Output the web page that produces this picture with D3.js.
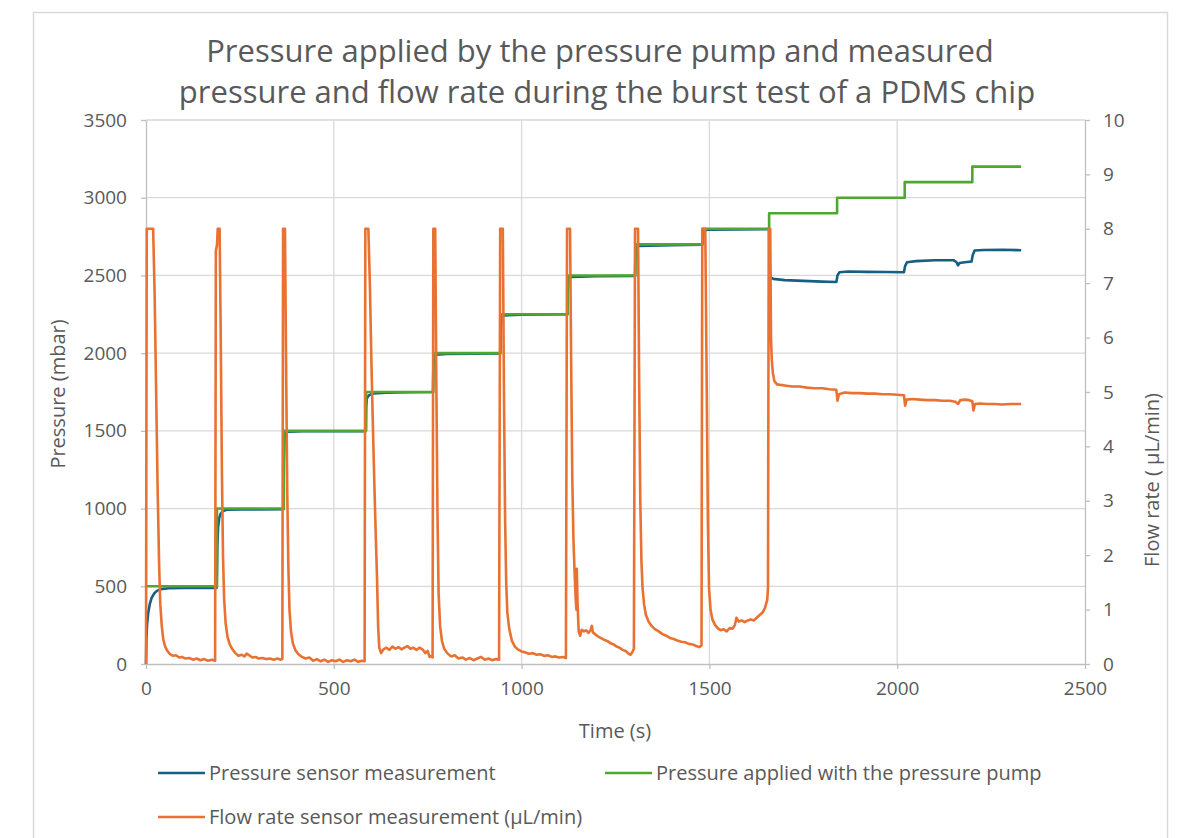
<!DOCTYPE html>
<html>
<head>
<meta charset="utf-8">
<script src="https://cdn.jsdelivr.net/npm/d3@7"></script>
<style>
  html, body { margin: 0; padding: 0; background: #ffffff; }
  svg { display: block; }
  text { font-family: "Open Sans", "Noto Sans", sans-serif; fill: #595959; }
</style>
</head>
<body>
<svg id="chart" width="1183" height="838"></svg>
<script>
// ---------------- data ----------------
const titleLines = ["Pressure applied by the pressure pump and measured",
                    "pressure and flow rate during the burst test of a PDMS chip"];
const xTicks = [0, 500, 1000, 1500, 2000, 2500];
const leftTicks = [0, 500, 1000, 1500, 2000, 2500, 3000, 3500];
const rightTicks = [0, 1, 2, 3, 4, 5, 6, 7, 8, 9, 10];
const seriesNames = ["Pressure sensor measurement",
                     "Pressure applied with the pressure pump",
                     "Flow rate sensor measurement (µL/min)"];

// Pressure applied with the pump: [time s, mbar] (step after)
const pumpPressure = [
  [0, 500], [189, 1000], [367, 1500], [586, 1750], [765, 2000], [944, 2250],
  [1123, 2500], [1303, 2700], [1482, 2800], [1659, 2900], [1840, 3000],
  [2020, 3100], [2200, 3200], [2330, 3200]
];

// Pressure sensor measurement: [time s, mbar]
const sensorPressure = [
  [0, 0], [1, 160], [3, 260], [6, 330], [10, 385], [15, 425], [22, 455], [30, 472],
  [40, 482], [60, 487], [100, 489], [150, 490], [188, 490],
  [189, 600], [190, 760], [192, 880], [195, 940], [199, 968], [205, 985], [215, 993],
  [250, 995], [300, 995], [366, 996],
  [367, 1300], [369, 1460], [372, 1485], [380, 1495], [420, 1497], [585, 1498],
  [586, 1650], [588, 1710], [593, 1728], [605, 1740], [640, 1745], [700, 1748], [764, 1750],
  [765, 1900], [767, 1975], [772, 1990], [800, 1995], [943, 1998],
  [944, 2150], [946, 2230], [952, 2243], [1000, 2248], [1122, 2250],
  [1123, 2400], [1125, 2478], [1130, 2490], [1200, 2495], [1302, 2497],
  [1303, 2620], [1306, 2680], [1312, 2690], [1400, 2695], [1481, 2697],
  [1482, 2760], [1485, 2790], [1500, 2795], [1659, 2797],
  [1660, 2600], [1662, 2490], [1670, 2478], [1700, 2470], [1750, 2465], [1800, 2460], [1838, 2458],
  [1841, 2500], [1846, 2520], [1870, 2525], [1920, 2523], [1970, 2522], [2018, 2520],
  [2021, 2560], [2026, 2585], [2050, 2592], [2100, 2598], [2150, 2598], [2158, 2585],
  [2162, 2565], [2166, 2580], [2180, 2585], [2198, 2590],
  [2201, 2630], [2206, 2660], [2230, 2664], [2280, 2665], [2330, 2662]
];

// Flow rate sensor measurement: [time s, µL/min]
const flowRate = [
  [0, 0], [2, 8], [19, 8], [23, 6.8], [27, 5.0], [31, 3.2], [35, 1.8], [38, 1.1], [42, 0.7],
  [46, 0.45], [51, 0.32], [57, 0.24], [64, 0.18], [72, 0.15], [80, 0.16], [88, 0.12], [96, 0.13],
  [105, 0.1], [115, 0.11], [125, 0.08], [135, 0.1], [145, 0.07], [155, 0.09], [165, 0.06],
  [175, 0.08], [184, 0.06],
  [186, 7.6], [189, 7.7], [191, 8], [196, 8], [199, 6.0], [202, 3.6], [205, 2.0], [208, 1.2],
  [212, 0.75], [217, 0.5], [223, 0.36], [230, 0.27], [238, 0.2], [246, 0.15], [255, 0.17],
  [262, 0.14], [268, 0.19], [275, 0.16], [283, 0.12], [292, 0.13], [300, 0.1], [310, 0.11],
  [320, 0.09], [330, 0.1], [340, 0.08], [350, 0.1], [358, 0.08], [363, 0.09],
  [365, 8], [370, 8], [373, 5.5], [376, 3.2], [379, 1.8], [382, 1.0], [386, 0.6], [391, 0.38],
  [398, 0.25], [406, 0.18], [415, 0.13], [425, 0.1], [435, 0.12], [445, 0.06], [455, 0.09],
  [465, 0.05], [475, 0.08], [485, 0.04], [495, 0.07], [505, 0.05], [515, 0.08], [525, 0.04],
  [535, 0.07], [545, 0.05], [555, 0.08], [565, 0.04], [575, 0.06], [582, 0.05],
  [584, 8], [592, 8], [596, 7.0], [600, 5.6], [604, 4.4], [608, 3.3], [612, 2.3], [615, 1.6],
  [618, 0.7], [621, 0.3], [626, 0.2], [632, 0.27], [640, 0.3], [648, 0.26], [656, 0.32],
  [664, 0.28], [672, 0.31], [680, 0.27], [688, 0.3], [696, 0.33], [704, 0.28], [712, 0.3],
  [720, 0.26], [728, 0.3], [736, 0.27], [744, 0.2], [750, 0.24], [755, 0.13], [760, 0.15],
  [763, 0.12],
  [765, 8], [770, 8], [773, 5.2], [776, 2.8], [779, 1.3], [783, 0.7], [788, 0.42], [794, 0.28],
  [802, 0.2], [812, 0.14], [822, 0.16], [832, 0.1], [842, 0.12], [852, 0.08], [862, 0.11],
  [872, 0.07], [882, 0.1], [892, 0.13], [902, 0.08], [912, 0.1], [922, 0.07], [932, 0.09],
  [940, 0.08],
  [943, 8], [950, 8], [953, 5.0], [956, 2.7], [959, 1.5], [962, 0.95], [967, 0.65], [974, 0.43],
  [982, 0.32], [990, 0.27], [1000, 0.23], [1010, 0.21], [1020, 0.19], [1030, 0.2], [1040, 0.17],
  [1050, 0.18], [1060, 0.15], [1070, 0.16], [1080, 0.13], [1090, 0.14], [1100, 0.12],
  [1110, 0.13], [1118, 0.11],
  [1121, 8], [1129, 8], [1132, 5.5], [1135, 3.4], [1138, 2.3], [1141, 1.7], [1144, 1.2],
  [1146, 1.0], [1147, 1.75], [1149, 1.1], [1152, 0.6], [1156, 0.52], [1160, 0.63], [1166, 0.6],
  [1172, 0.62], [1178, 0.57], [1184, 0.63], [1187, 0.7], [1190, 0.58], [1197, 0.54], [1205, 0.5],
  [1213, 0.47], [1221, 0.44], [1229, 0.42], [1237, 0.38], [1245, 0.36], [1253, 0.32],
  [1261, 0.3], [1269, 0.26], [1277, 0.24], [1285, 0.19], [1290, 0.17], [1295, 0.22], [1299, 0.28],
  [1302, 8], [1310, 8], [1313, 5.2], [1316, 3.0], [1319, 1.9], [1322, 1.4], [1326, 1.1],
  [1331, 0.9], [1338, 0.78], [1346, 0.7], [1355, 0.64], [1365, 0.6], [1375, 0.55], [1385, 0.52],
  [1395, 0.48], [1405, 0.46], [1415, 0.43], [1425, 0.41], [1435, 0.4], [1445, 0.37],
  [1455, 0.36], [1465, 0.33], [1473, 0.31], [1479, 0.34],
  [1481, 8], [1489, 8], [1493, 5.0], [1496, 2.6], [1499, 1.4], [1503, 1.0], [1508, 0.82],
  [1515, 0.72], [1522, 0.66], [1530, 0.62], [1538, 0.64], [1546, 0.6], [1554, 0.66],
  [1562, 0.65], [1568, 0.72], [1572, 0.85], [1578, 0.78], [1586, 0.8], [1594, 0.77],
  [1602, 0.8], [1610, 0.82], [1618, 0.8], [1626, 0.85], [1634, 0.9], [1642, 0.95],
  [1648, 1.03], [1654, 1.18], [1656, 1.4],
  [1658, 8], [1662, 8], [1664, 6.0], [1666, 5.6], [1669, 5.35], [1673, 5.2], [1680, 5.14],
  [1700, 5.12], [1720, 5.1], [1740, 5.1], [1760, 5.08], [1780, 5.07], [1800, 5.07],
  [1820, 5.05], [1838, 5.04], [1841, 4.84], [1845, 4.96], [1860, 4.99], [1880, 4.98],
  [1900, 4.98], [1920, 4.97], [1940, 4.97], [1960, 4.96], [1980, 4.96], [2000, 4.95],
  [2018, 4.94], [2021, 4.75], [2025, 4.86], [2040, 4.87], [2060, 4.86], [2080, 4.85],
  [2100, 4.85], [2120, 4.84], [2140, 4.84], [2155, 4.82], [2162, 4.78], [2168, 4.85],
  [2180, 4.86], [2192, 4.85], [2200, 4.83], [2203, 4.66], [2207, 4.78], [2220, 4.79],
  [2240, 4.78], [2260, 4.78], [2280, 4.77], [2300, 4.78], [2320, 4.78], [2330, 4.78]
];

const colors = { sensor: "#156082", pump: "#4EA72E", flow: "#E97132" };

// ---------------- drawing ----------------
const svg = d3.select("#chart");
const plot = { left: 146, right: 1085, top: 120, bottom: 664 };

// card frame
svg.append("rect").attr("x", 33.5).attr("y", 12.5).attr("width", 1134).attr("height", 900)
  .attr("fill", "#ffffff").attr("stroke", "#d9d9d9").attr("stroke-width", 1.5);

const x = d3.scaleLinear().domain([0, 2500]).range([plot.left, plot.right]);
const yL = d3.scaleLinear().domain([0, 3500]).range([plot.bottom, plot.top]);
const yR = d3.scaleLinear().domain([0, 10]).range([plot.bottom, plot.top]);

// gridlines
const grid = svg.append("g");
grid.selectAll("line.h").data(leftTicks.filter(d => d > 0)).join("line")
  .attr("x1", plot.left).attr("x2", plot.right)
  .attr("y1", d => yL(d)).attr("y2", d => yL(d))
  .attr("stroke", "#d9d9d9").attr("stroke-width", 1.3);
grid.selectAll("line.v").data(xTicks.filter(d => d > 0 && d < 2500)).join("line")
  .attr("x1", d => x(d)).attr("x2", d => x(d))
  .attr("y1", plot.top).attr("y2", plot.bottom)
  .attr("stroke", "#d9d9d9").attr("stroke-width", 1.3);

// axes
function styleAxis(g) {
  g.select(".domain").attr("stroke", "#bfbfbf").attr("stroke-width", 1.3);
  g.selectAll(".tick line").attr("stroke", "#bfbfbf").attr("stroke-width", 1.3);
  g.selectAll(".tick text").attr("fill", "#595959").style("font-size", "19px")
    .style("font-family", "'Open Sans', sans-serif");
}
const gx = svg.append("g").attr("transform", `translate(0,${plot.bottom})`)
  .call(d3.axisBottom(x).tickValues(xTicks).tickSize(5).tickSizeOuter(0).tickPadding(13).tickFormat(d3.format("d")));
styleAxis(gx);
const gl = svg.append("g").attr("transform", `translate(${plot.left},0)`)
  .call(d3.axisLeft(yL).tickValues(leftTicks).tickSize(5).tickSizeOuter(0).tickPadding(14).tickFormat(d3.format("d")));
styleAxis(gl);
const gr = svg.append("g").attr("transform", `translate(${plot.right},0)`)
  .call(d3.axisRight(yR).tickValues(rightTicks).tickSize(5).tickSizeOuter(0).tickPadding(13).tickFormat(d3.format("d")));
styleAxis(gr);

// series
const lineL = d3.line().x(d => x(d[0])).y(d => yL(d[1]));
const stepL = d3.line().x(d => x(d[0])).y(d => yL(d[1])).curve(d3.curveStepAfter);
const lineR = d3.line().x(d => x(d[0])).y(d => yR(d[1]));

svg.append("path").datum(sensorPressure).attr("d", lineL)
  .attr("fill", "none").attr("stroke", colors.sensor).attr("stroke-width", 2.6).attr("stroke-linejoin", "round");
svg.append("path").datum(pumpPressure).attr("d", stepL)
  .attr("fill", "none").attr("stroke", colors.pump).attr("stroke-width", 2.6).attr("stroke-linejoin", "round");
svg.append("path").datum(flowRate).attr("d", lineR)
  .attr("fill", "none").attr("stroke", colors.flow).attr("stroke-width", 2.6).attr("stroke-linejoin", "round");

// title
svg.append("text").attr("x", 600).attr("y", 62).attr("text-anchor", "middle")
  .style("font-size", "31px").text(titleLines[0]);
svg.append("text").attr("x", 607).attr("y", 103).attr("text-anchor", "middle")
  .style("font-size", "31px").text(titleLines[1]);

// axis titles
svg.append("text").attr("transform", `translate(65,394) rotate(-90)`).attr("text-anchor", "middle")
  .style("font-size", "20px").text("Pressure (mbar)");
svg.append("text").attr("transform", `translate(1159,480) rotate(-90)`).attr("text-anchor", "middle")
  .style("font-size", "20px").text("Flow rate ( µL/min)");
svg.append("text").attr("x", 615).attr("y", 738).attr("text-anchor", "middle")
  .style("font-size", "20px").text("Time (s)");

// legend
const legend = [
  { name: seriesNames[0], color: colors.sensor, x: 158, y: 773 },
  { name: seriesNames[1], color: colors.pump, x: 605, y: 773 },
  { name: seriesNames[2], color: colors.flow, x: 158, y: 817 }
];
const lg = svg.append("g");
legend.forEach(l => {
  lg.append("line").attr("x1", l.x).attr("x2", l.x + 47).attr("y1", l.y).attr("y2", l.y)
    .attr("stroke", l.color).attr("stroke-width", 2.6);
  lg.append("text").attr("x", l.x + 51).attr("y", l.y + 7).style("font-size", "20px").text(l.name);
});
</script>
</body>
</html>
